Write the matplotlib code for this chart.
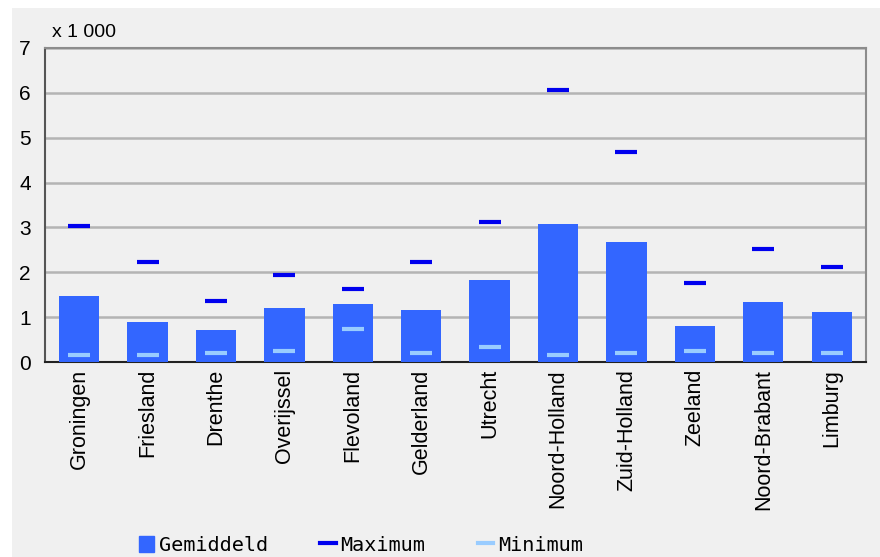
import numpy as np
import matplotlib.pyplot as plt
from matplotlib.lines import Line2D
from matplotlib.patches import Patch, Rectangle

provincies = ['Groningen', 'Friesland', 'Drenthe', 'Overijssel', 'Flevoland', 'Gelderland',
              'Utrecht', 'Noord-Holland', 'Zuid-Holland', 'Zeeland', 'Noord-Brabant', 'Limburg']
gemiddeld = [1.47, 0.89, 0.71, 1.20, 1.29, 1.16, 1.82, 3.07, 2.67, 0.80, 1.33, 1.11]
maximum = [3.04, 2.24, 1.35, 1.93, 1.62, 2.24, 3.13, 6.07, 4.69, 1.76, 2.51, 2.11]
minimum = [0.16, 0.16, 0.20, 0.24, 0.73, 0.20, 0.33, 0.16, 0.20, 0.24, 0.20, 0.20]

bg = '#f0f0f0'
plt.rcParams['font.family'] = ['Liberation Sans', 'DejaVu Sans']

fig = plt.figure(figsize=(8.8, 5.57), dpi=100, facecolor='white')
# grijs paneel met witte rand links en boven
fig.patches.append(Rectangle((12 / 880, 0), 1, 1 - 8 / 557, transform=fig.transFigure,
                             facecolor=bg, edgecolor='none', zorder=-10))
ax = fig.add_axes([0.051, 0.350, 0.933, 0.564], facecolor=bg)

x = np.arange(len(provincies))
ax.bar(x, gemiddeld, width=0.59, color='#3366ff', zorder=3)
ax.plot(x, maximum, linestyle='none', marker='_', markersize=16, mew=3, color='#0000ee', zorder=4)
ax.plot(x, minimum, linestyle='none', marker='_', markersize=16, mew=3, color='#99ccff', zorder=4)

ax.set_xlim(-0.5, len(provincies) - 0.5)
ax.set_ylim(0, 7)
ax.set_yticks(range(8))
ax.set_xticks(x)
ax.set_xticklabels(provincies, rotation=90, fontsize=15.5)
ax.tick_params(axis='y', labelsize=15, length=0, pad=10)
ax.tick_params(axis='x', length=0, pad=5)
ax.yaxis.grid(True, color='#b4b4b4', linewidth=1.8, zorder=0)
ax.set_axisbelow(True)

for s in ['top', 'right']:
    ax.spines[s].set_color('#8c8c8c')
    ax.spines[s].set_linewidth(1.5)
ax.spines['left'].set_color('#555555')
ax.spines['left'].set_linewidth(1.5)
ax.spines['bottom'].set_color('#222222')
ax.spines['bottom'].set_linewidth(1.5)

fig.text(0.059, 1 - 37 / 557, 'x 1 000', fontsize=14, ha='left', va='baseline')

handles = [Patch(color='#3366ff'),
           Line2D([0], [0], color='#0000ee', linewidth=3),
           Line2D([0], [0], color='#99ccff', linewidth=3)]
leg = fig.legend(handles, ['Gemiddeld', 'Maximum', 'Minimum'], loc='center',
                 bbox_to_anchor=(0.41, 0.0215), ncol=3, frameon=False,
                 prop={'family': 'DejaVu Sans Mono', 'size': 14.5},
                 handlelength=0.75, handleheight=0.85, handletextpad=0.25,
                 columnspacing=2.6, borderpad=0)

fig.savefig('out.png', dpi=100, facecolor='white')
